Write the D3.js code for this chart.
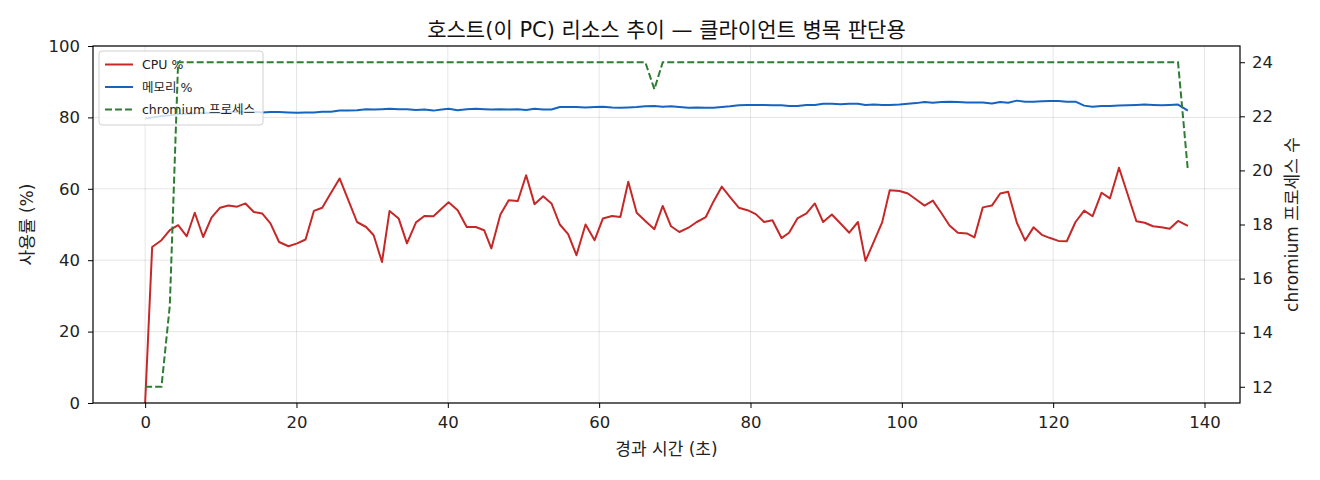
<!DOCTYPE html>
<html>
<head>
<meta charset="utf-8">
<script src="https://cdn.jsdelivr.net/npm/d3@7"></script>
<style>
  body { margin: 0; background: #fff; }
  svg { font-family: "DejaVu Sans", "Noto Sans CJK KR", sans-serif; }
  .tick text { font-size: 16.5px; fill: #222; font-family: "DejaVu Sans", sans-serif; }
  .grid line { stroke: #000; stroke-opacity: 0.1; }
</style>
</head>
<body>
<svg width="1320" height="480"></svg>
<script>
// elapsed seconds per sample
const times = [0, 0.93, 2.16, 3.26, 4.36, 5.5, 6.56, 7.67, 8.77, 9.9,
  11.0, 12.16, 13.26, 14.36, 15.46, 16.56, 17.7, 18.94, 20.1, 21.2,
  22.3, 23.4, 24.55, 25.7, 26.85, 28.0, 29.2, 30.2, 31.3, 32.3,
  33.5, 34.6, 35.8, 36.9, 38.1, 39.2, 40.1, 41.3, 42.5, 43.7,
  44.8, 45.75, 46.95, 48.05, 49.25, 50.35, 51.46, 52.6, 53.7, 54.8,
  55.9, 57.0, 58.2, 59.4, 60.5, 61.7, 62.8, 63.85, 64.96, 66.1,
  67.3, 68.4, 69.5, 70.6, 71.8, 72.9, 74.1, 75.1, 76.2, 77.3,
  78.45, 79.6, 80.7, 81.8, 82.9, 84.1, 85.1, 86.2, 87.4, 88.5,
  89.6, 90.75, 91.9, 93.05, 94.2, 95.2, 96.3, 97.4, 98.4, 99.7,
  100.8, 101.9, 103.0, 104.1, 105.2, 106.3, 107.4, 108.6, 109.6, 110.7,
  111.9, 113.0, 114.05, 115.2, 116.3, 117.4, 118.5, 119.6, 120.7, 121.8,
  122.95, 124.1, 125.2, 126.4, 127.5, 128.7, 129.85, 131.0, 132.1, 133.2,
  134.3, 135.4, 136.5, 137.8];

const cpu = [0, 43.7, 45.6, 48.4, 49.8, 46.7, 53.3, 46.5, 51.9, 54.7,
  55.3, 55.0, 55.9, 53.5, 53.1, 50.3, 45.1, 43.9, 44.7, 45.8,
  53.8, 54.7, 58.8, 62.9, 56.8, 50.7, 49.3, 47.0, 39.5, 53.8,
  51.7, 44.7, 50.6, 52.4, 52.3, 54.5, 56.2, 54.0, 49.3, 49.3,
  48.4, 43.3, 52.8, 56.8, 56.6, 63.8, 55.7, 57.9, 55.9, 50.0,
  47.3, 41.4, 50.0, 45.6, 51.7, 52.4, 52.1, 62.0, 53.3, 51.0,
  48.7, 55.2, 49.5, 47.9, 49.1, 50.7, 52.1, 56.4, 60.6, 57.7,
  54.7, 54.0, 52.9, 50.7, 51.2, 46.2, 47.7, 51.7, 53.1, 55.9,
  50.7, 52.8, 50.3, 47.7, 50.7, 39.8, 45.2, 50.6, 59.6, 59.4,
  58.7, 57.0, 55.3, 56.7, 53.3, 49.7, 47.7, 47.5, 46.4, 54.8,
  55.3, 58.7, 59.2, 50.5, 45.5, 49.2, 47.1, 46.2, 45.4, 45.3,
  50.7, 53.9, 52.3, 58.9, 57.3, 65.9, 58.4, 50.9, 50.5, 49.5,
  49.2, 48.8, 51.0, 49.6];

const mem = [79.7, 80.0, 80.4, 80.6, 80.9, 81.0, 81.1, 81.2, 81.3, 81.2,
  81.4, 81.6, 81.5, 81.6, 81.4, 81.5, 81.5, 81.4, 81.3, 81.4,
  81.4, 81.6, 81.6, 81.9, 81.9, 82.0, 82.3, 82.2, 82.3, 82.4,
  82.3, 82.3, 82.1, 82.2, 81.9, 82.2, 82.4, 82.0, 82.3, 82.4,
  82.3, 82.2, 82.3, 82.2, 82.3, 82.1, 82.4, 82.2, 82.2, 82.9,
  82.9, 82.9, 82.8, 82.9, 83.0, 82.8, 82.7, 82.8, 82.9, 83.1,
  83.2, 83.0, 83.1, 82.9, 82.7, 82.8, 82.7, 82.7, 82.9, 83.1,
  83.4, 83.5, 83.5, 83.5, 83.4, 83.4, 83.2, 83.2, 83.5, 83.5,
  83.8, 83.8, 83.7, 83.8, 83.8, 83.5, 83.6, 83.5, 83.5, 83.6,
  83.8, 84.0, 84.3, 84.1, 84.3, 84.4, 84.3, 84.2, 84.2, 84.2,
  83.9, 84.3, 84.1, 84.7, 84.4, 84.4, 84.5, 84.6, 84.6, 84.4,
  84.4, 83.3, 83.0, 83.2, 83.2, 83.3, 83.4, 83.5, 83.6, 83.5,
  83.4, 83.5, 83.6, 81.9];

const chromium = [12, 12, 12, 15, 24, 24, 24, 24, 24, 24,
  24, 24, 24, 24, 24, 24, 24, 24, 24, 24,
  24, 24, 24, 24, 24, 24, 24, 24, 24, 24,
  24, 24, 24, 24, 24, 24, 24, 24, 24, 24,
  24, 24, 24, 24, 24, 24, 24, 24, 24, 24,
  24, 24, 24, 24, 24, 24, 24, 24, 24, 24,
  23, 24, 24, 24, 24, 24, 24, 24, 24, 24,
  24, 24, 24, 24, 24, 24, 24, 24, 24, 24,
  24, 24, 24, 24, 24, 24, 24, 24, 24, 24,
  24, 24, 24, 24, 24, 24, 24, 24, 24, 24,
  24, 24, 24, 24, 24, 24, 24, 24, 24, 24,
  24, 24, 24, 24, 24, 24, 24, 24, 24, 24,
  24, 24, 24, 20];

const xTicks = [0, 20, 40, 60, 80, 100, 120, 140];
const yTicks = [0, 20, 40, 60, 80, 100];
const y2Ticks = [12, 14, 16, 18, 20, 22, 24];

const names = ["CPU %", "메모리 %", "chromium 프로세스"];
const colors = ["#c62828", "#1565c0", "#2e7d32"];

const m = {top: 46, right: 80, bottom: 77, left: 93},
      W = 1320, H = 480,
      gW = W - m.left - m.right,
      gH = H - m.top - m.bottom;

const svg = d3.select("svg");
const g = svg.append("g").attr("transform", `translate(${m.left},${m.top})`);

// matplotlib-like 5% margins
const tMax = d3.max(times), pad = tMax * 0.05;
const x = d3.scaleLinear().domain([-pad, tMax + pad]).range([0, gW]);
const y = d3.scaleLinear().domain([0, 100]).range([gH, 0]);
const cMin = d3.min(chromium), cMax = d3.max(chromium), cPad = (cMax - cMin) * 0.05;
const y2 = d3.scaleLinear().domain([cMin - cPad, cMax + cPad]).range([gH, 0]);

// grid
g.append("g").attr("class", "grid")
  .selectAll("line").data(xTicks).join("line")
  .attr("x1", d => x(d)).attr("x2", d => x(d)).attr("y1", 0).attr("y2", gH);
g.append("g").attr("class", "grid")
  .selectAll("line").data(yTicks).join("line")
  .attr("x1", 0).attr("x2", gW).attr("y1", d => y(d)).attr("y2", d => y(d));

const line = (vals, sc) => d3.line()
  .x((d, i) => x(times[i]))
  .y(d => sc(d))(vals);

g.append("path").attr("d", line(cpu, y))
  .attr("fill", "none").attr("stroke", colors[0]).attr("stroke-width", 2)
  .attr("stroke-linejoin", "round");
g.append("path").attr("d", line(mem, y))
  .attr("fill", "none").attr("stroke", colors[1]).attr("stroke-width", 2)
  .attr("stroke-linejoin", "round");

// legend (belongs to the left axis, so the twin line sits over it)
const leg = g.append("g").attr("transform", "translate(6,5)");
leg.append("rect").attr("width", 164).attr("height", 74).attr("rx", 3)
  .attr("fill", "#fff").attr("fill-opacity", 0.8)
  .attr("stroke", "#d0d0d0");
names.forEach((n, i) => {
  const r = leg.append("g").attr("transform", `translate(6,${13.5 + i * 22.5})`);
  r.append("line").attr("x1", 0).attr("x2", 28)
    .attr("stroke", colors[i]).attr("stroke-width", 2)
    .attr("stroke-dasharray", i === 2 ? "7,3" : null);
  r.append("text").attr("x", 37).attr("y", 4.5).text(n)
    .style("font-size", "12.5px").attr("fill", "#222");
});

g.append("path").attr("d", line(chromium, y2))
  .attr("fill", "none").attr("stroke", colors[2]).attr("stroke-width", 2)
  .attr("stroke-dasharray", "7,3");

// axes
g.append("g").attr("transform", `translate(0,${gH})`)
  .call(d3.axisBottom(x).tickValues(xTicks).tickSize(5).tickPadding(8).tickSizeOuter(0));
g.append("g")
  .call(d3.axisLeft(y).tickValues(yTicks).tickSize(5).tickPadding(8).tickSizeOuter(0));
g.append("g").attr("transform", `translate(${gW},0)`)
  .call(d3.axisRight(y2).tickValues(y2Ticks).tickSize(5).tickPadding(7).tickSizeOuter(0));
g.selectAll(".domain").remove();
g.append("rect").attr("width", gW).attr("height", gH)
  .attr("fill", "none").attr("stroke", "#000").attr("stroke-width", 1.2);

// labels
svg.append("text").attr("x", m.left + gW / 2).attr("y", 36.5)
  .attr("text-anchor", "middle").style("font-size", "21px").attr("fill", "#111")
  .text("호스트(이 PC) 리소스 추이 — 클라이언트 병목 판단용");
svg.append("text").attr("x", m.left + gW / 2).attr("y", 455)
  .attr("text-anchor", "middle").style("font-size", "17px").attr("fill", "#222")
  .text("경과 시간 (초)");
svg.append("text").attr("transform", `translate(33,${m.top + gH / 2}) rotate(-90)`)
  .attr("text-anchor", "middle").style("font-size", "17px").attr("fill", "#222")
  .text("사용률 (%)");
svg.append("text").attr("transform", `translate(1298,${m.top + gH / 2}) rotate(-90)`)
  .attr("text-anchor", "middle").style("font-size", "17px").attr("fill", "#222")
  .text("chromium 프로세스 수");
</script>
</body>
</html>
